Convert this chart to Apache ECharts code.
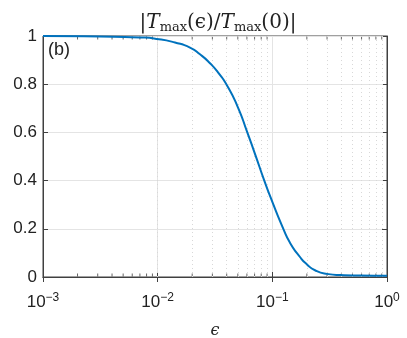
<!DOCTYPE html>
<html>
<head>
<meta charset="utf-8">
<script src="https://cdn.jsdelivr.net/npm/echarts@6/dist/echarts.min.js"></script>
<style>html,body{margin:0;padding:0;background:#fff}#c{width:407px;height:338px}</style>
</head>
<body>
<div id="c"></div>
<script>
// Data
const eps   = [0.001, 0.00314, 0.00702, 0.00986, 0.01416, 0.01914, 0.02339, 0.0286, 0.03359, 0.04049, 0.04998, 0.06048, 0.07132, 0.0851, 0.1, 0.1247, 0.1426, 0.1742, 0.2006, 0.2355, 0.2996, 0.389, 0.581, 1.0];
const ratio = [1.000, 0.998, 0.994, 0.988, 0.973, 0.952, 0.924, 0.887, 0.849, 0.793, 0.705, 0.600, 0.505, 0.400, 0.312, 0.200, 0.142, 0.083, 0.052, 0.028, 0.013, 0.008, 0.006, 0.005];
const xTickExponents = [-3, -2, -1, 0];
const yTicks = [0, 0.2, 0.4, 0.6, 0.8, 1];
const minorX = [];
for (const d of [0.001, 0.01, 0.1]) for (let k = 2; k <= 9; k++) minorX.push(+(k * d).toPrecision(3));

const chart = echarts.init(document.getElementById('c'), null, {renderer: 'canvas'});
const axisCol = '#404040';
const font = 'Liberation Sans, Arial, Helvetica, sans-serif';
const serif = 'DejaVu Serif, Liberation Serif, serif';

const minorTickData = [];
minorX.forEach(x => { minorTickData.push({value: [x, 0], symbolOffset: [0, -2]}); minorTickData.push({value: [x, 1], symbolOffset: [0, 2]}); });

chart.setOption({
  animation: false,
  backgroundColor: '#fff',
  title: {
    text: '|{i|T}{s|max}(ϵ)/{i|T}{s|max}(0)|',
    left: 213, top: 7, textAlign: 'center',
    textStyle: {
      fontFamily: serif, fontSize: 20, fontWeight: 'normal', color: '#222',
      rich: {
        i: {fontFamily: serif, fontStyle: 'italic', fontSize: 20, color: '#222'},
        s: {fontFamily: serif, fontSize: 13, color: '#222', verticalAlign: 'bottom', padding: [9, 0, 0, 0]}
      }
    }
  },
  grid: {left: 43, right: 20, top: 36, bottom: 61, show: true, borderColor: axisCol, borderWidth: 1, backgroundColor: 'transparent', containLabel: false, outerBoundsMode: 'none'},
  xAxis: [{
    type: 'log', logBase: 10, min: 0.001, max: 1,
    name: 'ϵ', nameLocation: 'middle', nameGap: 46,
    nameTextStyle: {fontFamily: serif, fontStyle: 'italic', fontSize: 16, color: '#222'},
    axisLine: {show: true, lineStyle: {color: axisCol}},
    axisTick: {show: true, inside: true, length: 5, lineStyle: {color: axisCol}},
    splitLine: {show: true, lineStyle: {color: '#e4e4e4', width: 1}},
    axisLabel: {
      margin: 15, color: '#222', fontFamily: font, fontSize: 17,
      formatter: v => { const e = Math.round(Math.log10(v)); return xTickExponents.includes(e) ? '10{sup|' + String(e).replace('-', '\u2212') + '}' : ''; },
      rich: {sup: {fontFamily: font, fontSize: 12, color: '#222', verticalAlign: 'top', padding: [0, 0, 9, 0]}}
    }
  }, {
    type: 'log', logBase: 10, min: 0.001, max: 1, position: 'top',
    axisLine: {show: true, lineStyle: {color: axisCol}},
    axisTick: {show: true, inside: true, length: 5, lineStyle: {color: axisCol}},
    axisLabel: {show: false}, splitLine: {show: false}
  }],
  yAxis: [{
    type: 'value', min: 0, max: 1, interval: 0.2,
    axisLine: {show: true, lineStyle: {color: axisCol}},
    axisTick: {show: true, inside: true, length: 5, lineStyle: {color: axisCol}},
    splitLine: {show: true, lineStyle: {color: '#e4e4e4', width: 1}},
    axisLabel: {margin: 6, color: '#222', fontFamily: font, fontSize: 17,
      formatter: v => yTicks.includes(+v.toFixed(1)) ? String(+v.toFixed(1)) : ''}
  }, {
    type: 'value', min: 0, max: 1, interval: 0.2, position: 'right',
    axisLine: {show: true, lineStyle: {color: axisCol}},
    axisTick: {show: true, inside: true, length: 5, lineStyle: {color: axisCol}},
    axisLabel: {show: false}, splitLine: {show: false}
  }],
  graphic: [{
    type: 'text', left: 48, top: 41,
    style: {text: '(b)', font: '18px ' + font, fill: '#222'}
  }],
  series: [{
    type: 'line', xAxisIndex: 0, yAxisIndex: 0,
    data: eps.map((e, i) => [e, ratio[i]]),
    smooth: 0.6, showSymbol: false,
    lineStyle: {color: '#0072BD', width: 2},
    markLine: {
      silent: true, symbol: 'none', label: {show: false},
      lineStyle: {color: '#d8d8d8', type: [1, 3], width: 1},
      data: minorX.map(x => ({xAxis: x}))
    },
    z: 5
  }, {
    type: 'scatter', xAxisIndex: 0, yAxisIndex: 0, silent: true,
    symbol: 'rect', symbolSize: [1, 3],
    itemStyle: {color: axisCol},
    data: minorTickData, z: 4
  }]
});
</script>
</body>
</html>
